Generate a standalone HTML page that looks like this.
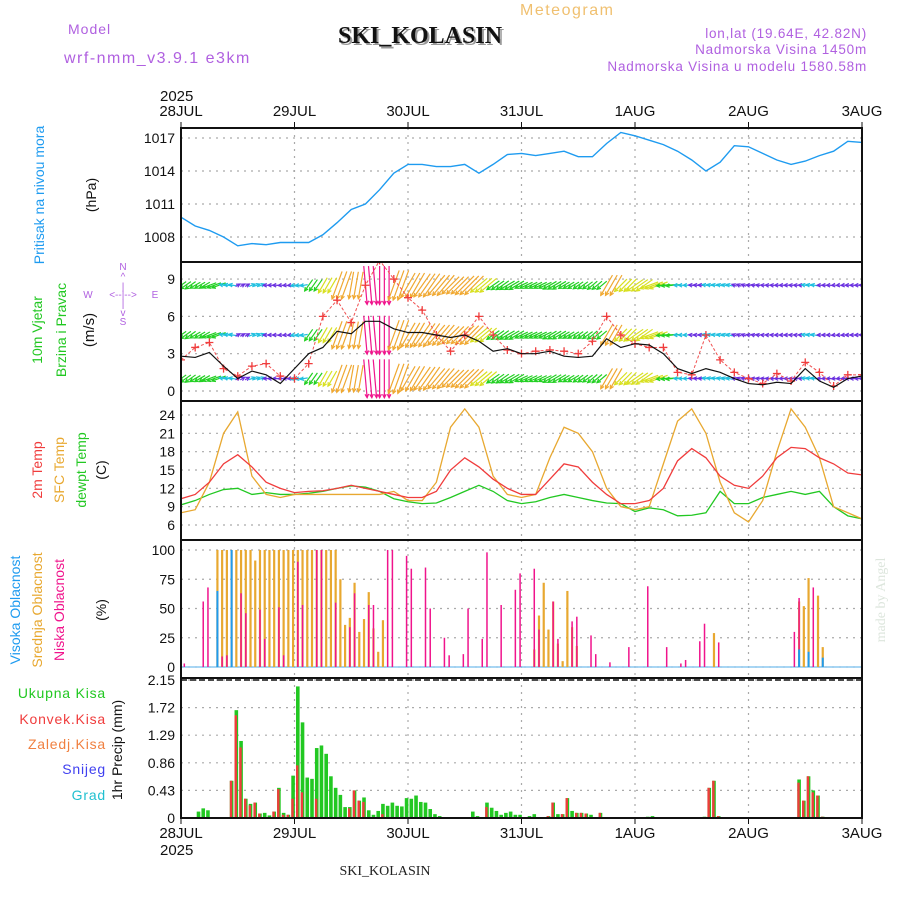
<!DOCTYPE html>
<html><head><meta charset="utf-8"><style>
html,body{margin:0;padding:0;background:#fff;}
svg{display:block;font-family:"Liberation Sans",sans-serif;}
</style></head><body>
<svg id="chart" width="900" height="900" viewBox="0 0 900 900" xmlns="http://www.w3.org/2000/svg">
<rect width="900" height="900" fill="#fff"/>
<text x="520" y="15" fill="#f0c070" font-size="16" letter-spacing="1.5">Meteogram</text>
<text x="68" y="34" fill="#b060e0" font-size="14" letter-spacing="1">Model</text>
<text x="64" y="63" fill="#b060e0" font-size="16" letter-spacing="1.5">wrf-nmm_v3.9.1 e3km</text>
<text x="422" y="45" fill="#999" font-size="24" font-weight="bold" text-anchor="middle" font-family="Liberation Serif,serif">SKI_KOLASIN</text>
<text x="420" y="43" fill="#111" font-size="24" font-weight="bold" text-anchor="middle" font-family="Liberation Serif,serif">SKI_KOLASIN</text>
<text x="867" y="38" fill="#b060e0" font-size="13.5" text-anchor="end" letter-spacing="0.8">lon,lat (19.64E, 42.82N)</text>
<text x="867" y="54" fill="#b060e0" font-size="13.5" text-anchor="end" letter-spacing="0.8">Nadmorska Visina 1450m</text>
<text x="867" y="71" fill="#b060e0" font-size="13.5" text-anchor="end" letter-spacing="0.8">Nadmorska Visina u modelu 1580.58m</text>
<text x="160" y="101" font-size="15" fill="#111">2025</text>
<text x="160" y="855" font-size="15" fill="#111">2025</text>
<text x="385" y="875" font-size="14" fill="#222" text-anchor="middle" font-family="Liberation Serif,serif">SKI_KOLASIN</text>
<text transform="translate(885,600) rotate(-90)" font-size="14" fill="#dde6dd" text-anchor="middle" font-family="Liberation Serif,serif">made by Angel</text>

<text transform="translate(44,195) rotate(-90)" font-size="14" fill="#1e9bf0" text-anchor="middle">Pritisak na nivou mora</text>
<text transform="translate(96,195) rotate(-90)" font-size="14" fill="#111" text-anchor="middle">(hPa)</text>
<text transform="translate(42,330) rotate(-90)" font-size="14" fill="#22c822" text-anchor="middle">10m Vjetar</text>
<text transform="translate(66,330) rotate(-90)" font-size="14" fill="#22c822" text-anchor="middle">Brzina i Pravac</text>
<text transform="translate(94,330) rotate(-90)" font-size="15" fill="#111" text-anchor="middle">(m/s)</text>
<g fill="#b060e0" font-size="10" text-anchor="middle">
<text x="123" y="270">N</text><text x="123" y="280">^</text><text x="123" y="290">|</text>
<text x="88" y="298">W</text><text x="123" y="298">&lt;--|--&gt;</text><text x="155" y="298">E</text>
<text x="123" y="307">|</text><text x="123" y="316">v</text><text x="123" y="325">S</text></g>
<text transform="translate(42,470) rotate(-90)" font-size="14" fill="#f03c3c" text-anchor="middle">2m Temp</text>
<text transform="translate(64,470) rotate(-90)" font-size="14" fill="#e8a830" text-anchor="middle">SFC Temp</text>
<text transform="translate(86,470) rotate(-90)" font-size="14" fill="#22c822" text-anchor="middle">dewpt Temp</text>
<text transform="translate(106,470) rotate(-90)" font-size="14" fill="#111" text-anchor="middle">(C)</text>
<text transform="translate(20,610) rotate(-90)" font-size="14" fill="#1e9bf0" text-anchor="middle">Visoka Oblacnost</text>
<text transform="translate(42,610) rotate(-90)" font-size="14" fill="#e8a830" text-anchor="middle">Srednja Oblacnost</text>
<text transform="translate(64,610) rotate(-90)" font-size="14" fill="#f0148c" text-anchor="middle">Niska Oblacnost</text>
<text transform="translate(106,610) rotate(-90)" font-size="14" fill="#111" text-anchor="middle">(%)</text>
<g font-size="14" letter-spacing="0.8" text-anchor="end">
<text x="106" y="698" fill="#22c822">Ukupna Kisa</text>
<text x="106" y="724" fill="#f03c3c">Konvek.Kisa</text>
<text x="106" y="749" fill="#f08040">Zaledj.Kisa</text>
<text x="106" y="774" fill="#4040f0">Snijeg</text>
<text x="106" y="800" fill="#20c0d0">Grad</text></g>
<text transform="translate(122,750) rotate(-90)" font-size="14" fill="#111" text-anchor="middle">1hr Precip (mm)</text>
<g id="layer"></g>
</svg>
<script>
// ---- data (3-hourly, 28JUL 00 .. 3AUG 00) ----
const dayLabels = ["28JUL","29JUL","30JUL","31JUL","1AUG","2AUG","3AUG"];
const pressure = [1009.8,1009,1008.6,1008,1007.2,1007.4,1007.3,1007.5,1007.5,1007.5,1008.2,1009.3,1010.5,1011,1012.3,1013.8,1014.6,1014.6,1014.4,1014.4,1014.6,1013.8,1014.6,1015.5,1015.6,1015.4,1015.6,1015.8,1015.3,1015.3,1016.5,1017.5,1017.2,1016.8,1016.4,1015.8,1015,1014,1014.8,1016.3,1016.2,1015.6,1015,1014.6,1014.9,1015.4,1015.8,1016.7,1016.6];
const pressureTicks = [1008,1011,1014,1017];
const windSpeed = [2.8,2.7,3.1,2,1,1.6,1.3,0.6,1.8,3,3.5,4.8,4.6,5.6,5.6,5,4.7,4.7,4.5,4.3,4.5,4,3.2,3.4,3,3,3.2,2.8,2.7,2.8,4.2,3.5,3.8,3.7,3,1.8,1.4,1.8,1.5,1,0.6,0.5,0.7,0.6,1.8,0.8,0.3,1,1.2];
const windGust = [2.5,3.5,3.9,1.8,1.2,2,2.2,1.2,1,2.2,6,7.3,5.5,8.5,10.5,9,7.5,6.5,4.5,3.2,4.5,6,4.5,3.3,3,3.2,3.3,3.2,3,4,6,4.5,3.8,3.5,3.5,1.5,1.3,4.5,2.5,1.5,1,0.6,1.4,0.8,2.3,1.5,0.4,1.3,1.3];
const windDirTo = [235,240,250,280,60,70,270,265,260,215,210,200,190,175,180,200,210,215,220,225,225,230,235,240,245,245,240,240,235,230,210,225,235,250,265,270,275,280,285,290,280,275,270,275,280,270,265,270,275];
const windTicks = [0,3,6,9];
const temp2m = [10.3,11,13,16,17.5,15.5,13,12,11.3,11.5,11.6,12,12.5,12,11.5,11,10.5,10.5,11.5,15,17,15.5,13.5,12,11,11,13.5,16,15.5,13,11,9.5,9.5,10,12,16.5,18.5,17,14,12.5,12,14,17,18.7,18.5,17,16,14.5,14.2];
const tempSfc = [8,8.5,13,21,24.5,14,11,10.5,11,11,11,11,11,11,11,11.5,10,10,13,22,25,22,14,11,10.5,11,17,22,21,18,12,9,8.5,9,16,23,25,21,13,8,6.5,10,18,25,22,17,9,8,7];
const tempDew = [9.3,10,11,11.8,12,11,11.3,11,11,11.2,11.5,12,12.4,12.2,11.5,10.3,9.8,9.5,9.6,10.5,11.5,12.5,11.5,10,9.5,9.8,10.5,11,10.5,10,9.6,9.5,8.2,8.8,8.5,7.5,7.6,8,11.5,9.5,9.5,10.5,11,11.5,11,11.5,9,7.5,7];
const tempTicks = [6,9,12,15,18,21,24];
// ---- cloud (hourly, sparse) ----
const midCloudHours = [8,9,10,11,12,13,14,15,16,17,18,19,20,21,22,23,24,25,26,27,28,29,30,31,32,33,34,35,36,37,38,39,40,41,42,43,75,76,77,78,79,80,81,82,83,84,113,131,132,133,135,136];
const midCloudVals  = [100,100,100,100,100,100,100,100,91,100,100,100,100,100,100,100,100,100,100,100,100,100,100,100,100,100,75,36,42,72,30,41,64,33,13,40,15,44,72,32,56,20,5,65,34,18,29,56,52,76,61,17];
const lowCloudHours = [1,5,6,9,10,13,14,17,18,21,22,25,26,29,30,33,36,37,40,41,44,45,48,49,52,53,56,57,60,61,64,65,68,71,72,75,76,79,80,83,84,87,88,91,95,99,103,106,107,110,111,114,130,131,134];
const lowCloudVals  = [3,56,68,9,10,63,46,49,24,51,10,90,53,100,100,55,34,63,53,53,100,100,95,84,85,50,25,10,11,50,24,98,53,66,80,84,32,56,24,39,43,27,11,4,17,69,17,3,6,22,37,21,30,59,68];
const highCloudHours = [8,11,131,133,136];
const highCloudVals  = [65,100,15,13,8];
const cloudTicks = [0,25,50,75,100];
// ---- precipitation (hourly, sparse) ----
const precipHours = [4,5,6,11,12,13,14,15,16,17,18,19,20,21,22,23,24,25,26,27,28,29,30,31,32,33,34,35,36,37,38,39,40,41,42,43,44,45,46,47,48,49,50,51,52,53,54,55,62,63,65,66,67,68,69,70,71,72,74,75,78,79,80,81,82,83,84,85,86,87,89,99,100,111,112,113,114,131,132,133,134,135,136];
const precipTotal = [0.1,0.15,0.12,0.58,1.68,1.2,0.3,0.22,0.24,0.07,0.08,0.04,0.1,0.47,0.08,0.05,0.66,2.05,1.49,0.63,0.61,1.09,1.13,1.0,0.65,0.47,0.36,0.17,0.17,0.43,0.27,0.32,0.12,0.05,0.11,0.22,0.19,0.24,0.19,0.18,0.31,0.3,0.35,0.25,0.24,0.14,0.06,0.03,0.1,0.03,0.24,0.16,0.11,0.05,0.08,0.1,0.05,0.05,0.03,0.06,0.03,0.24,0.06,0.06,0.31,0.11,0.08,0.08,0.07,0.05,0.08,0.02,0.03,0.02,0.47,0.58,0.03,0.6,0.27,0.65,0.43,0.35,0.02];
const precipConv  = [0,0,0,0.58,1.6,1.1,0.3,0.2,0.24,0.07,0,0,0.1,0.45,0.05,0.05,0.3,0.82,0.4,0,0,0.3,0,0,0,0,0,0,0.15,0.43,0.27,0.25,0,0,0,0.06,0,0,0,0,0,0,0,0,0,0,0,0,0,0,0.17,0,0,0,0,0,0,0,0,0,0.03,0.24,0,0.06,0.31,0,0.08,0.08,0.07,0,0.08,0,0,0,0.47,0.58,0.03,0.55,0.27,0.65,0.4,0.35,0.02];
const precipTicks = [0,0.43,0.86,1.29,1.72,2.15];

// ---- axes ----
const X0=181, X1=862, DAYW=(X1-X0)/6, HW=DAYW/24;
const x3 = i => X0 + i*DAYW/8;
const xh = h => X0 + h*HW;
const yP = p => 138 + (1017-p)*11;
const yW = v => 391 - v*12.44;
const yT = t => 415 + (24-t)*110/18;
const yC = c => 667 - c*1.17;
const yR = r => 818 - r*138/2.15;
const panels = [[128,262],[262,401],[401,540],[540,678],[678,818]];
const NS="http://www.w3.org/2000/svg";
const layer=document.getElementById('layer');
function mk(tag, attrs, parent){const e=document.createElementNS(NS,tag);for(const k in attrs)e.setAttribute(k,attrs[k]);(parent||layer).appendChild(e);return e;}

const defs=mk('defs',{});
panels.forEach((p,i)=>{const c=mk('clipPath',{id:'clip'+i},defs);mk('rect',{x:X0,y:p[0],width:X1-X0,height:p[1]-p[0]},c);});

function hgrid(ticks, yf, fmt, name){
  ticks.forEach(t=>{
    const y=yf(t);
    const g=mk('line',{x1:X0,x2:X1,y1:y,y2:y,stroke:'#aaa','stroke-dasharray':'2,5','stroke-width':1.2});
    
    
    const tx=mk('text',{x:175,y:y+5,'font-size':14,'text-anchor':'end',fill:'#111'});
    tx.textContent=fmt(t);
    
    
  });
}
panels.forEach((p,i)=>{
  for(let d=1;d<6;d++){
    const x=X0+d*DAYW;
    const v=mk('line',{x1:x,x2:x,y1:p[0],y2:p[1],stroke:'#aaa','stroke-dasharray':'2,5','stroke-width':1.2});
    
    
  }
});
hgrid(pressureTicks,yP,t=>t,'pressure');
hgrid(windTicks,yW,t=>t,'wind');
hgrid(tempTicks,yT,t=>t,'temp');
hgrid(cloudTicks,yC,t=>t,'cloud');
hgrid(precipTicks,yR,t=>String(t),'precip');

dayLabels.forEach((d,i)=>{
  const x=X0+i*DAYW;
  [116,838].forEach(y=>{
    const t=mk('text',{x:x,y:y,'font-size':15,'text-anchor':'middle',fill:'#111'});
    t.textContent=d;
    
    
  });
  mk('line',{x1:x,x2:x,y1:128,y2:122,stroke:'#111','stroke-width':1});
  mk('line',{x1:x,x2:x,y1:818,y2:824,stroke:'#111','stroke-width':1});
});

const pl=mk('polyline',{points:pressure.map((p,i)=>x3(i)+','+yP(p)).join(' '),fill:'none',stroke:'#1e9bf0','stroke-width':1.4,'clip-path':'url(#clip0)'});



function windColor(v){return v<1.5?'#6a30e0':v<2.5?'#20c0e0':v<3.5?'#22d022':v<4.2?'#d8e020':v<5.2?'#f0a830':'#f0148c';}
const wg=mk('g',{'clip-path':'url(#clip1)'});


const rows=[8.5,4.5,1.0];
windSpeed.forEach((v,i)=>{
  const a=windDirTo[i]*Math.PI/180, L=4+v*v*1.1, col=windColor(v);
  const dx=Math.sin(a)*L, dy=-Math.cos(a)*L;
  for(let k=0;k<3;k++){
    const xb=x3(i)+k*HW;
    if(xb>X1) continue;
    rows.forEach(r=>{
      const yb=yW(r);
      const x1=xb-dx/2,y1=yb-dy/2,x2=xb+dx/2,y2=yb+dy/2;
      const ar=mk('line',{x1:x1,y1:y1,x2:x2,y2:y2,stroke:col,'stroke-width':1.2},wg);
      
      
      const h1=a+Math.PI*0.85,h2=a-Math.PI*0.85,hl=4;
      mk('polyline',{points:`${x2+Math.sin(h1)*hl},${y2-Math.cos(h1)*hl} ${x2},${y2} ${x2+Math.sin(h2)*hl},${y2-Math.cos(h2)*hl}`,fill:'none',stroke:col,'stroke-width':1.2},wg);
    });
  }
});
const gl=mk('polyline',{points:windGust.map((g,i)=>x3(i)+','+yW(g)).join(' '),fill:'none',stroke:'#f05050','stroke-width':1,'stroke-dasharray':'3,2','clip-path':'url(#clip1)'});


windGust.forEach((g,i)=>{
  const x=x3(i),y=yW(g);
  const m=mk('path',{d:`M${x-4},${y}H${x+4}M${x},${y-4}V${y+4}`,stroke:'#f03c3c','stroke-width':1.3,'clip-path':'url(#clip1)'});
  
  
});
const sl=mk('polyline',{points:windSpeed.map((v,i)=>x3(i)+','+yW(v)).join(' '),fill:'none',stroke:'#111','stroke-width':1.2,'clip-path':'url(#clip1)'});



[[tempDew,'#22c822','dewpoint-line'],[tempSfc,'#e8a830','sfc-temp-line'],[temp2m,'#f03c3c','temp-2m-line']].forEach(([arr,c,n])=>{
  const l=mk('polyline',{points:arr.map((t,i)=>x3(i)+','+yT(t)).join(' '),fill:'none',stroke:c,'stroke-width':1.3,'clip-path':'url(#clip2)'});
  
  
});

mk('line',{x1:X0,x2:X1,y1:667,y2:667,stroke:'#8cc8f0','stroke-width':1.5});
function cloudBars(hours,vals,col,w,name){
  hours.forEach((h,i)=>{
    const x=xh(h-0.3), y=yC(vals[i]);
    const b=mk('rect',{x:x-w/2,y:y,width:w,height:667-y,fill:col});
    
    
  });
}
cloudBars(midCloudHours,midCloudVals,'#e8a830',2.2,'mid-cloud-bar');
cloudBars(lowCloudHours,lowCloudVals,'#f0148c',1.5,'low-cloud-bar');
cloudBars(highCloudHours,highCloudVals,'#1e9bf0',2,'high-cloud-bar');

precipHours.forEach((h,i)=>{
  const x=xh(h-0.3);
  const yt=yR(precipTotal[i]);
  const b=mk('rect',{x:x-1.8,y:yt,width:3.6,height:818-yt,fill:'#22c822'});
  
  
  if(precipConv[i]>0){
    const yc=yR(precipConv[i]);
    const c=mk('rect',{x:x-1.8,y:yc,width:2.4,height:818-yc,fill:'#f03c3c'});
    
    
  }
});

panels.forEach((p,i)=>{
  const f=mk('rect',{x:X0,y:p[0],width:X1-X0,height:p[1]-p[0],fill:'none',stroke:'#111','stroke-width':2});
  
  
});
mk('line',{x1:X0,x2:X1,y1:680,y2:680,stroke:'#111','stroke-width':1.5,'stroke-dasharray':'6,3'});
</script>
</body></html>
